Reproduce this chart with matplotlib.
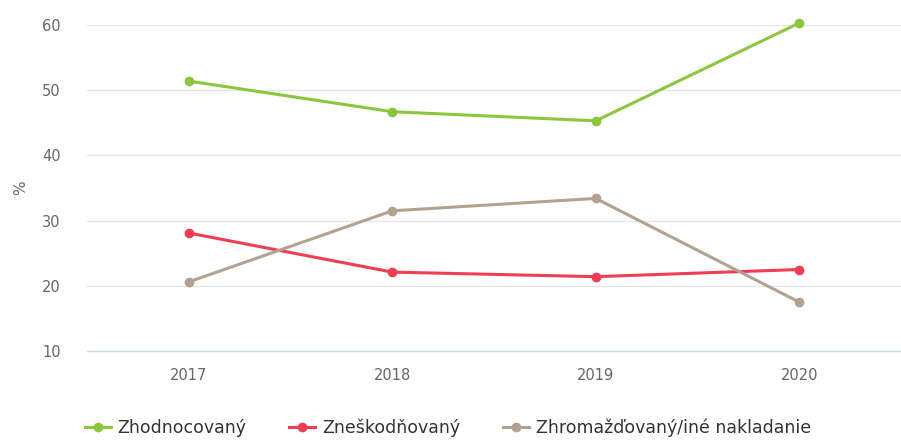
import matplotlib
matplotlib.use("Agg")
import matplotlib.pyplot as plt
from matplotlib.lines import Line2D

years = ["2017", "2018", "2019", "2020"]
zhodnocovany = [51.4, 46.7, 45.3, 60.3]
zneskodnovany = [28.1, 22.1, 21.4, 22.5]
zhromazdovany = [20.6, 31.5, 33.4, 17.5]
series_names = ["Zhodnocovaný", "Zneškodňovaný", "Zhromažďovaný/iné nakladanie"]
colors = ["#8cc63e", "#ef3e53", "#b2a390"]
yticks = [10, 20, 30, 40, 50, 60]

plt.rcParams['font.family'] = ['DejaVu Sans']
W, H = 901, 440
fig = plt.figure(figsize=(W/100, H/100), dpi=100)
ax = fig.add_axes([87/W, 1-351/H, (901-87)/W, (351-25)/H])

x = list(range(len(years)))
for vals, c, n in zip([zhodnocovany, zneskodnovany, zhromazdovany], colors, series_names):
    ax.plot(x, vals, color=c, lw=2.2, marker='o', ms=6, label=n, zorder=3, clip_on=False)

ax.set_xlim(-0.5, len(years)-0.5)
ax.set_ylim(10, 60)
ax.set_yticks(yticks)
ax.set_xticks(x)
ax.set_xticklabels(years)
ax.yaxis.grid(True, color='#e6e6e6', lw=1)
ax.set_axisbelow(True)
for s in ['top', 'right', 'left']:
    ax.spines[s].set_visible(False)
ax.spines['bottom'].set_color('#ccd6eb')
ax.spines['bottom'].set_linewidth(1)
ax.tick_params(axis='both', length=0, labelsize=10.5, labelcolor='#666666')
ax.tick_params(axis='x', pad=12)
ax.tick_params(axis='y', pad=19)
ax.set_ylabel('%', fontsize=11, color='#666666', labelpad=10)

handles = [Line2D([], [], color=c, lw=2.2, marker='o', ms=6) for c in colors]
fig.legend(handles, series_names, loc='center', bbox_to_anchor=(0.497, 1-428/H), ncol=3,
           frameon=False, fontsize=12.5, handlelength=1.5, handletextpad=0.4, columnspacing=2.45,
           labelcolor='#333333')

fig.savefig('out.png', dpi=100)
